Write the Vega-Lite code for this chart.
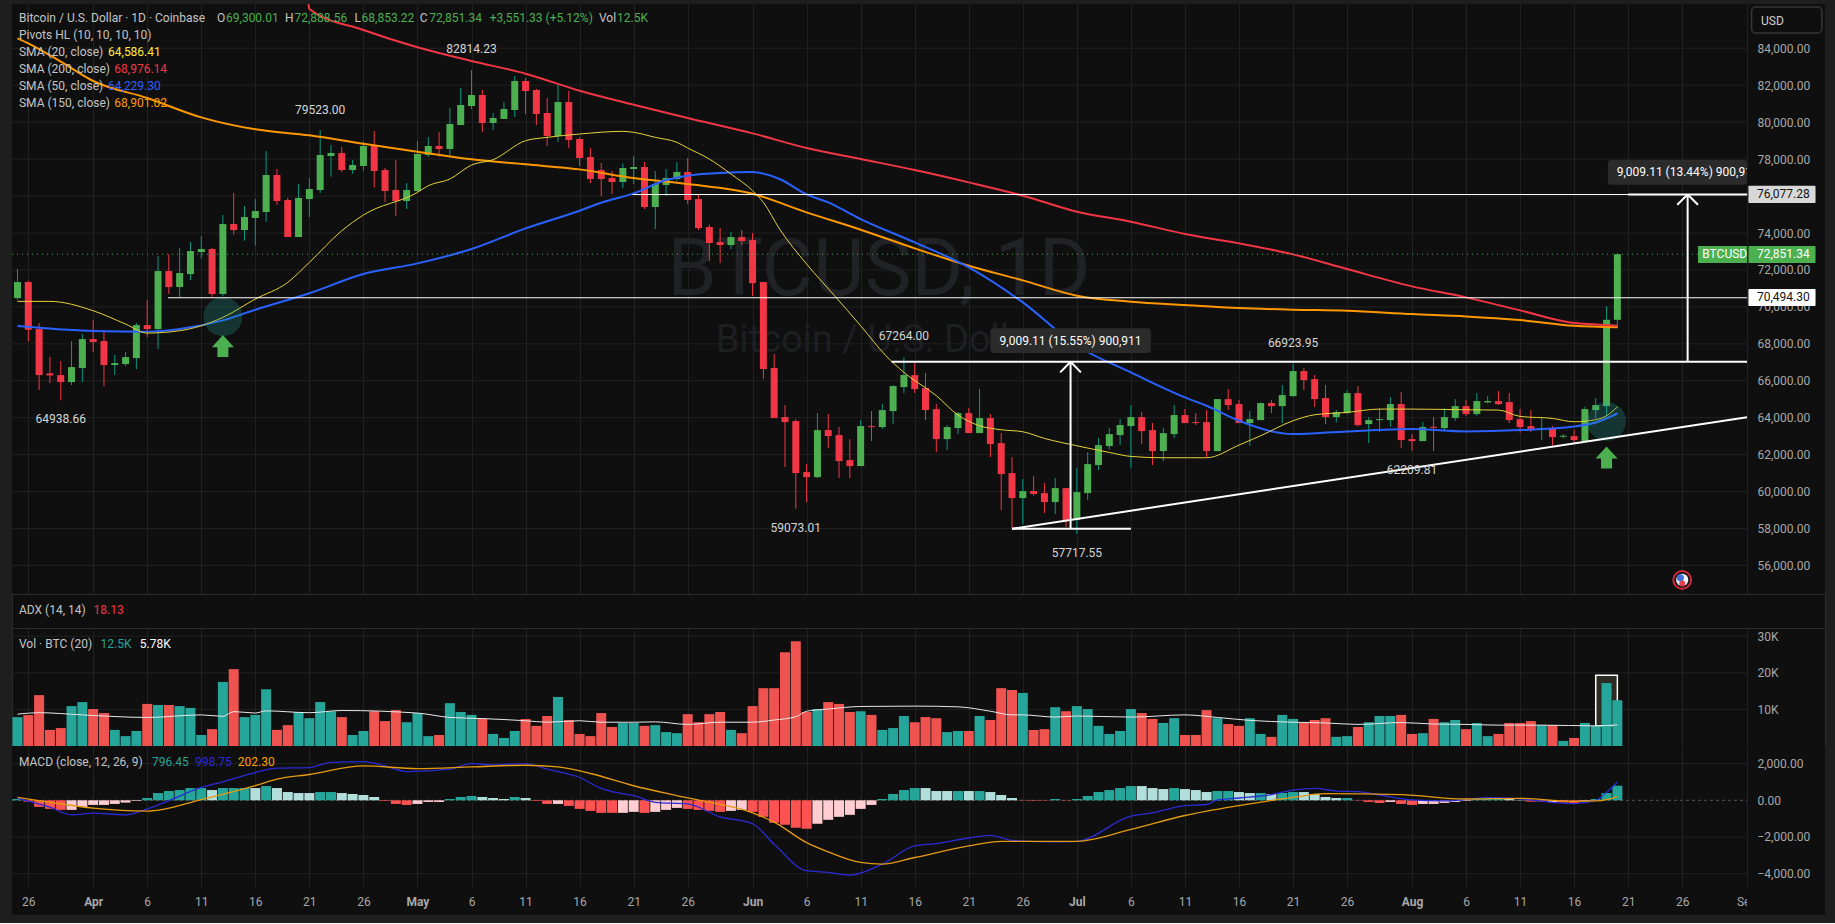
{"$schema":"https://vega.github.io/schema/vega-lite/v6.json","background":"#1e1e1e","padding":{"left":11,"top":0,"right":11,"bottom":8},"bounds":"flush","spacing":0,
"datasets":{
"bars":[
{"d":"2025-03-25","o":70478,"h":72048,"l":70388,"c":71345,"v":7.9,"vd":"u","m":72,"mc":"T"},
{"d":"2025-03-26","o":71345,"h":71417,"l":68114,"c":68763,"v":8.45,"vd":"d","m":-72,"mc":"R"},
{"d":"2025-03-27","o":68800,"h":69124,"l":65496,"c":66309,"v":13.9,"vd":"d","m":-360,"mc":"R"},
{"d":"2025-03-28","o":66400,"h":67283,"l":65875,"c":66290,"v":4.4,"vd":"d","m":-468,"mc":"R"},
{"d":"2025-03-29","o":66309,"h":67067,"l":64938,"c":65930,"v":4.9,"vd":"d","m":-523,"mc":"R"},
{"d":"2025-03-30","o":65930,"h":68150,"l":65767,"c":66742,"v":10.9,"vd":"u","m":-523,"mc":"P"},
{"d":"2025-03-31","o":66688,"h":68529,"l":65930,"c":68258,"v":12.0,"vd":"u","m":-360,"mc":"P"},
{"d":"2025-04-01","o":68258,"h":69287,"l":67554,"c":68095,"v":10.1,"vd":"d","m":-252,"mc":"P"},
{"d":"2025-04-02","o":68150,"h":68691,"l":65713,"c":66850,"v":9.0,"vd":"d","m":-252,"mc":"P"},
{"d":"2025-04-03","o":66850,"h":67392,"l":66309,"c":66958,"v":4.4,"vd":"u","m":-198,"mc":"P"},
{"d":"2025-04-04","o":66904,"h":67554,"l":66796,"c":67283,"v":2.7,"vd":"u","m":-126,"mc":"P"},
{"d":"2025-04-05","o":67229,"h":69124,"l":66634,"c":69016,"v":4.1,"vd":"u","m":-36,"mc":"P"},
{"d":"2025-04-06","o":69016,"h":70370,"l":68366,"c":68800,"v":11.5,"vd":"d","m":126,"mc":"T"},
{"d":"2025-04-07","o":68800,"h":72752,"l":67717,"c":71940,"v":11.2,"vd":"u","m":396,"mc":"T"},
{"d":"2025-04-08","o":71940,"h":72843,"l":70695,"c":71073,"v":11.2,"vd":"d","m":505,"mc":"T"},
{"d":"2025-04-09","o":71073,"h":73186,"l":70514,"c":71832,"v":10.9,"vd":"u","m":559,"mc":"T"},
{"d":"2025-04-10","o":71777,"h":73511,"l":71453,"c":73023,"v":10.4,"vd":"u","m":667,"mc":"T"},
{"d":"2025-04-11","o":72969,"h":73835,"l":72608,"c":73132,"v":3.0,"vd":"u","m":667,"mc":"T"},
{"d":"2025-04-12","o":73132,"h":73180,"l":70550,"c":70695,"v":4.6,"vd":"d","m":559,"mc":"L"},
{"d":"2025-04-13","o":70695,"h":74972,"l":70568,"c":74485,"v":17.5,"vd":"u","m":667,"mc":"T"},
{"d":"2025-04-14","o":74485,"h":76164,"l":73908,"c":74160,"v":21.0,"vd":"d","m":667,"mc":"T"},
{"d":"2025-04-15","o":74160,"h":75460,"l":73583,"c":74864,"v":7.9,"vd":"u","m":667,"mc":"T"},
{"d":"2025-04-16","o":74810,"h":75839,"l":73312,"c":75189,"v":8.5,"vd":"u","m":667,"mc":"L"},
{"d":"2025-04-17","o":75135,"h":78438,"l":74612,"c":77139,"v":15.5,"vd":"u","m":775,"mc":"T"},
{"d":"2025-04-18","o":77139,"h":77463,"l":75514,"c":75731,"v":4.4,"vd":"d","m":667,"mc":"L"},
{"d":"2025-04-19","o":75785,"h":75900,"l":73782,"c":73782,"v":5.7,"vd":"d","m":450,"mc":"L"},
{"d":"2025-04-20","o":73782,"h":76651,"l":73782,"c":75893,"v":9.3,"vd":"u","m":396,"mc":"L"},
{"d":"2025-04-21","o":75839,"h":76976,"l":74864,"c":76381,"v":7.6,"vd":"u","m":396,"mc":"L"},
{"d":"2025-04-22","o":76326,"h":79575,"l":76164,"c":78222,"v":12.0,"vd":"u","m":450,"mc":"T"},
{"d":"2025-04-23","o":78167,"h":78763,"l":77048,"c":78330,"v":9.5,"vd":"u","m":450,"mc":"T"},
{"d":"2025-04-24","o":78330,"h":78655,"l":77301,"c":77409,"v":7.9,"vd":"d","m":396,"mc":"L"},
{"d":"2025-04-25","o":77409,"h":77951,"l":77211,"c":77680,"v":3.0,"vd":"u","m":342,"mc":"L"},
{"d":"2025-04-26","o":77626,"h":78962,"l":77373,"c":78709,"v":4.1,"vd":"u","m":288,"mc":"L"},
{"d":"2025-04-27","o":78709,"h":79521,"l":76471,"c":77355,"v":9.5,"vd":"d","m":180,"mc":"L"},
{"d":"2025-04-28","o":77409,"h":77518,"l":75677,"c":76272,"v":6.8,"vd":"d","m":-36,"mc":"R"},
{"d":"2025-04-29","o":76326,"h":77951,"l":74918,"c":75731,"v":9.8,"vd":"d","m":-198,"mc":"R"},
{"d":"2025-04-30","o":75731,"h":76705,"l":75297,"c":76326,"v":6.5,"vd":"u","m":-252,"mc":"R"},
{"d":"2025-05-01","o":76272,"h":78980,"l":76218,"c":78276,"v":9.0,"vd":"u","m":-198,"mc":"P"},
{"d":"2025-05-02","o":78222,"h":79196,"l":78113,"c":78709,"v":2.7,"vd":"u","m":-90,"mc":"P"},
{"d":"2025-05-03","o":78709,"h":79467,"l":78131,"c":78547,"v":3.0,"vd":"d","m":-90,"mc":"P"},
{"d":"2025-05-04","o":78547,"h":80767,"l":78222,"c":79900,"v":11.7,"vd":"u","m":72,"mc":"T"},
{"d":"2025-05-05","o":79846,"h":81850,"l":79846,"c":80929,"v":9.3,"vd":"u","m":180,"mc":"T"},
{"d":"2025-05-06","o":80875,"h":82814,"l":80712,"c":81471,"v":8.5,"vd":"u","m":234,"mc":"T"},
{"d":"2025-05-07","o":81471,"h":81741,"l":79467,"c":79955,"v":7.4,"vd":"d","m":180,"mc":"L"},
{"d":"2025-05-08","o":79955,"h":80496,"l":79575,"c":80225,"v":3.3,"vd":"u","m":126,"mc":"L"},
{"d":"2025-05-09","o":80171,"h":81091,"l":80171,"c":80712,"v":2.2,"vd":"u","m":72,"mc":"L"},
{"d":"2025-05-10","o":80658,"h":82499,"l":80279,"c":82229,"v":4.1,"vd":"u","m":180,"mc":"T"},
{"d":"2025-05-11","o":82229,"h":82391,"l":80442,"c":81687,"v":7.4,"vd":"d","m":126,"mc":"L"},
{"d":"2025-05-12","o":81741,"h":81796,"l":79846,"c":80442,"v":5.5,"vd":"d","m":-36,"mc":"R"},
{"d":"2025-05-13","o":80496,"h":81308,"l":78709,"c":79250,"v":8.2,"vd":"d","m":-198,"mc":"R"},
{"d":"2025-05-14","o":79250,"h":82120,"l":78926,"c":81091,"v":13.4,"vd":"u","m":-198,"mc":"P"},
{"d":"2025-05-15","o":81091,"h":81687,"l":78601,"c":79034,"v":7.1,"vd":"d","m":-306,"mc":"R"},
{"d":"2025-05-16","o":79088,"h":79196,"l":77626,"c":78059,"v":3.3,"vd":"d","m":-468,"mc":"R"},
{"d":"2025-05-17","o":78113,"h":78601,"l":76705,"c":76922,"v":2.7,"vd":"d","m":-577,"mc":"R"},
{"d":"2025-05-18","o":77409,"h":77788,"l":76001,"c":76922,"v":9.0,"vd":"d","m":-685,"mc":"R"},
{"d":"2025-05-19","o":76976,"h":77355,"l":76110,"c":76760,"v":5.2,"vd":"d","m":-685,"mc":"R"},
{"d":"2025-05-20","o":76760,"h":77770,"l":76435,"c":77518,"v":6.3,"vd":"u","m":-685,"mc":"P"},
{"d":"2025-05-21","o":77464,"h":78167,"l":76651,"c":77572,"v":6.3,"vd":"u","m":-631,"mc":"P"},
{"d":"2025-05-22","o":77572,"h":77842,"l":75297,"c":75406,"v":5.5,"vd":"d","m":-685,"mc":"R"},
{"d":"2025-05-23","o":75406,"h":77355,"l":74215,"c":76651,"v":5.7,"vd":"u","m":-631,"mc":"P"},
{"d":"2025-05-24","o":76597,"h":77463,"l":76001,"c":76976,"v":3.8,"vd":"u","m":-523,"mc":"P"},
{"d":"2025-05-25","o":76922,"h":77842,"l":76814,"c":77301,"v":3.5,"vd":"u","m":-414,"mc":"P"},
{"d":"2025-05-26","o":77301,"h":78059,"l":75568,"c":75785,"v":8.7,"vd":"d","m":-468,"mc":"R"},
{"d":"2025-05-27","o":75839,"h":76056,"l":74160,"c":74269,"v":6.5,"vd":"d","m":-523,"mc":"R"},
{"d":"2025-05-28","o":74323,"h":74467,"l":72482,"c":73456,"v":8.7,"vd":"d","m":-577,"mc":"R"},
{"d":"2025-05-29","o":73510,"h":74269,"l":72373,"c":73348,"v":9.3,"vd":"d","m":-631,"mc":"R"},
{"d":"2025-05-30","o":73348,"h":74052,"l":73131,"c":73781,"v":4.4,"vd":"u","m":-577,"mc":"P"},
{"d":"2025-05-31","o":73781,"h":74160,"l":73348,"c":73565,"v":3.5,"vd":"d","m":-523,"mc":"P"},
{"d":"2025-06-01","o":73619,"h":73998,"l":70587,"c":71290,"v":10.9,"vd":"d","m":-631,"mc":"R"},
{"d":"2025-06-02","o":71345,"h":71345,"l":66092,"c":66634,"v":15.8,"vd":"d","m":-901,"mc":"R"},
{"d":"2025-06-03","o":66688,"h":67446,"l":63980,"c":63980,"v":15.8,"vd":"d","m":-1225,"mc":"R"},
{"d":"2025-06-04","o":64034,"h":64684,"l":61327,"c":63764,"v":25.6,"vd":"d","m":-1333,"mc":"R"},
{"d":"2025-06-05","o":63818,"h":63926,"l":59073,"c":61002,"v":28.6,"vd":"d","m":-1496,"mc":"R"},
{"d":"2025-06-06","o":61056,"h":61489,"l":59431,"c":60785,"v":9.3,"vd":"d","m":-1550,"mc":"R"},
{"d":"2025-06-07","o":60785,"h":64251,"l":60731,"c":63330,"v":10.1,"vd":"u","m":-1279,"mc":"P"},
{"d":"2025-06-08","o":63330,"h":64197,"l":62356,"c":63005,"v":12.0,"vd":"d","m":-1063,"mc":"P"},
{"d":"2025-06-09","o":63060,"h":63493,"l":60731,"c":61652,"v":11.5,"vd":"d","m":-901,"mc":"P"},
{"d":"2025-06-10","o":61706,"h":62843,"l":60731,"c":61381,"v":9.3,"vd":"d","m":-793,"mc":"P"},
{"d":"2025-06-11","o":61381,"h":63872,"l":61381,"c":63547,"v":9.5,"vd":"u","m":-468,"mc":"P"},
{"d":"2025-06-12","o":63547,"h":64359,"l":62735,"c":63493,"v":8.5,"vd":"d","m":-252,"mc":"P"},
{"d":"2025-06-13","o":63493,"h":64738,"l":63385,"c":64413,"v":4.4,"vd":"u","m":72,"mc":"T"},
{"d":"2025-06-14","o":64359,"h":65767,"l":63655,"c":65713,"v":4.9,"vd":"u","m":342,"mc":"T"},
{"d":"2025-06-15","o":65659,"h":67264,"l":65334,"c":66309,"v":8.2,"vd":"u","m":559,"mc":"T"},
{"d":"2025-06-16","o":66309,"h":66958,"l":65334,"c":65550,"v":6.5,"vd":"d","m":667,"mc":"T"},
{"d":"2025-06-17","o":65605,"h":66417,"l":63872,"c":64413,"v":7.9,"vd":"d","m":667,"mc":"L"},
{"d":"2025-06-18","o":64467,"h":64738,"l":62139,"c":62843,"v":7.6,"vd":"d","m":505,"mc":"L"},
{"d":"2025-06-19","o":62843,"h":63601,"l":62247,"c":63493,"v":3.8,"vd":"u","m":505,"mc":"L"},
{"d":"2025-06-20","o":63438,"h":64305,"l":63114,"c":64251,"v":4.1,"vd":"u","m":505,"mc":"T"},
{"d":"2025-06-21","o":64251,"h":64522,"l":63168,"c":63168,"v":4.1,"vd":"d","m":505,"mc":"L"},
{"d":"2025-06-22","o":63168,"h":65550,"l":63168,"c":63980,"v":8.2,"vd":"u","m":505,"mc":"T"},
{"d":"2025-06-23","o":63980,"h":64197,"l":61868,"c":62572,"v":7.1,"vd":"d","m":450,"mc":"L"},
{"d":"2025-06-24","o":62626,"h":63168,"l":58998,"c":60948,"v":15.8,"vd":"d","m":288,"mc":"L"},
{"d":"2025-06-25","o":61002,"h":61868,"l":58024,"c":59648,"v":15.3,"vd":"d","m":126,"mc":"L"},
{"d":"2025-06-26","o":59648,"h":60677,"l":58222,"c":60027,"v":14.5,"vd":"u","m":18,"mc":"R"},
{"d":"2025-06-27","o":60027,"h":60839,"l":59775,"c":59865,"v":4.4,"vd":"d","m":-18,"mc":"R"},
{"d":"2025-06-28","o":59919,"h":60460,"l":58836,"c":59431,"v":4.6,"vd":"d","m":-18,"mc":"R"},
{"d":"2025-06-29","o":59431,"h":60731,"l":58782,"c":60190,"v":10.6,"vd":"u","m":72,"mc":"T"},
{"d":"2025-06-30","o":60190,"h":60190,"l":58078,"c":58457,"v":9.5,"vd":"d","m":-18,"mc":"R"},
{"d":"2025-07-01","o":58457,"h":61272,"l":57717,"c":59973,"v":10.9,"vd":"u","m":72,"mc":"T"},
{"d":"2025-07-02","o":59919,"h":62139,"l":59540,"c":61489,"v":10.1,"vd":"u","m":234,"mc":"T"},
{"d":"2025-07-03","o":61435,"h":62897,"l":61165,"c":62518,"v":5.5,"vd":"u","m":450,"mc":"T"},
{"d":"2025-07-04","o":62464,"h":63439,"l":62265,"c":63114,"v":3.3,"vd":"u","m":559,"mc":"T"},
{"d":"2025-07-05","o":63060,"h":63926,"l":62518,"c":63601,"v":4.1,"vd":"u","m":667,"mc":"T"},
{"d":"2025-07-06","o":63547,"h":64684,"l":61272,"c":64034,"v":10.1,"vd":"u","m":775,"mc":"T"},
{"d":"2025-07-07","o":64034,"h":64305,"l":62572,"c":63276,"v":9.0,"vd":"d","m":775,"mc":"L"},
{"d":"2025-07-08","o":63330,"h":63709,"l":61435,"c":62193,"v":7.4,"vd":"d","m":667,"mc":"L"},
{"d":"2025-07-09","o":62193,"h":63439,"l":61652,"c":63168,"v":6.3,"vd":"u","m":613,"mc":"L"},
{"d":"2025-07-10","o":63114,"h":64684,"l":62897,"c":64143,"v":7.6,"vd":"u","m":667,"mc":"T"},
{"d":"2025-07-11","o":64143,"h":64468,"l":63709,"c":63709,"v":3.0,"vd":"d","m":613,"mc":"L"},
{"d":"2025-07-12","o":63764,"h":64251,"l":63601,"c":63709,"v":3.0,"vd":"d","m":559,"mc":"L"},
{"d":"2025-07-13","o":63764,"h":64413,"l":61850,"c":62193,"v":9.8,"vd":"d","m":450,"mc":"L"},
{"d":"2025-07-14","o":62193,"h":65008,"l":62193,"c":65008,"v":7.6,"vd":"u","m":505,"mc":"T"},
{"d":"2025-07-15","o":65008,"h":65550,"l":64413,"c":64683,"v":6.0,"vd":"d","m":505,"mc":"T"},
{"d":"2025-07-16","o":64738,"h":64954,"l":63709,"c":63709,"v":5.5,"vd":"d","m":450,"mc":"L"},
{"d":"2025-07-17","o":63709,"h":64359,"l":62481,"c":63925,"v":7.6,"vd":"u","m":396,"mc":"L"},
{"d":"2025-07-18","o":63871,"h":64828,"l":63871,"c":64792,"v":3.3,"vd":"u","m":396,"mc":"T"},
{"d":"2025-07-19","o":64792,"h":64954,"l":64250,"c":64629,"v":2.5,"vd":"d","m":342,"mc":"L"},
{"d":"2025-07-20","o":64629,"h":65767,"l":63709,"c":65225,"v":8.5,"vd":"u","m":396,"mc":"T"},
{"d":"2025-07-21","o":65171,"h":66924,"l":65117,"c":66525,"v":7.4,"vd":"u","m":450,"mc":"T"},
{"d":"2025-07-22","o":66525,"h":66687,"l":65496,"c":66037,"v":6.3,"vd":"d","m":450,"mc":"L"},
{"d":"2025-07-23","o":66091,"h":66308,"l":64575,"c":65008,"v":7.1,"vd":"d","m":342,"mc":"L"},
{"d":"2025-07-24","o":65063,"h":65767,"l":63655,"c":64034,"v":7.6,"vd":"d","m":180,"mc":"L"},
{"d":"2025-07-25","o":64034,"h":64413,"l":63745,"c":64305,"v":2.5,"vd":"u","m":126,"mc":"L"},
{"d":"2025-07-26","o":64250,"h":65478,"l":64196,"c":65333,"v":2.7,"vd":"u","m":126,"mc":"T"},
{"d":"2025-07-27","o":65333,"h":65712,"l":63528,"c":63600,"v":5.2,"vd":"d","m":-18,"mc":"R"},
{"d":"2025-07-28","o":63655,"h":64034,"l":62626,"c":63871,"v":6.5,"vd":"u","m":-90,"mc":"R"},
{"d":"2025-07-29","o":63871,"h":64521,"l":63221,"c":63925,"v":8.2,"vd":"u","m":-144,"mc":"R"},
{"d":"2025-07-30","o":63871,"h":65116,"l":63510,"c":64738,"v":8.2,"vd":"u","m":-90,"mc":"P"},
{"d":"2025-07-31","o":64738,"h":65387,"l":62355,"c":62788,"v":8.5,"vd":"d","m":-198,"mc":"R"},
{"d":"2025-08-01","o":62843,"h":63113,"l":62210,"c":62734,"v":3.3,"vd":"d","m":-252,"mc":"R"},
{"d":"2025-08-02","o":62734,"h":63763,"l":62734,"c":63492,"v":3.5,"vd":"u","m":-198,"mc":"P"},
{"d":"2025-08-03","o":63510,"h":64034,"l":62193,"c":63456,"v":7.4,"vd":"d","m":-198,"mc":"P"},
{"d":"2025-08-04","o":63438,"h":64503,"l":63275,"c":64034,"v":6.5,"vd":"u","m":-144,"mc":"P"},
{"d":"2025-08-05","o":63979,"h":65008,"l":63835,"c":64629,"v":7.1,"vd":"u","m":-90,"mc":"P"},
{"d":"2025-08-06","o":64629,"h":64954,"l":64088,"c":64196,"v":4.6,"vd":"d","m":-36,"mc":"P"},
{"d":"2025-08-07","o":64196,"h":65333,"l":64106,"c":64900,"v":6.3,"vd":"u","m":72,"mc":"T"},
{"d":"2025-08-08","o":64828,"h":65171,"l":64775,"c":64900,"v":2.7,"vd":"u","m":108,"mc":"T"},
{"d":"2025-08-09","o":64900,"h":65442,"l":64684,"c":64738,"v":3.3,"vd":"d","m":126,"mc":"T"},
{"d":"2025-08-10","o":64846,"h":65333,"l":63709,"c":63871,"v":6.3,"vd":"d","m":72,"mc":"L"},
{"d":"2025-08-11","o":63925,"h":64467,"l":63185,"c":63492,"v":6.3,"vd":"d","m":18,"mc":"L"},
{"d":"2025-08-12","o":63546,"h":64413,"l":63221,"c":63330,"v":6.8,"vd":"d","m":-72,"mc":"R"},
{"d":"2025-08-13","o":63384,"h":64034,"l":62788,"c":63438,"v":5.7,"vd":"u","m":-72,"mc":"R"},
{"d":"2025-08-14","o":63438,"h":63546,"l":62500,"c":62951,"v":5.7,"vd":"d","m":-108,"mc":"P"},
{"d":"2025-08-15","o":62969,"h":63113,"l":62878,"c":63023,"v":1.4,"vd":"u","m":-126,"mc":"R"},
{"d":"2025-08-16","o":63005,"h":63330,"l":62662,"c":62788,"v":2.2,"vd":"d","m":-144,"mc":"R"},
{"d":"2025-08-17","o":62734,"h":64593,"l":62662,"c":64467,"v":6.3,"vd":"u","m":-36,"mc":"P"},
{"d":"2025-08-18","o":64413,"h":65062,"l":63962,"c":64683,"v":5.5,"vd":"u","m":72,"mc":"T"},
{"d":"2025-08-19","o":64629,"h":70044,"l":64106,"c":69300,"v":17.2,"vd":"u","m":396,"mc":"T"},
{"d":"2025-08-20","o":69300.01,"h":72888.56,"l":68853.22,"c":72851.34,"v":12.5,"vd":"u","m":796.45,"mc":"T"}
],
"ma":[
{"d":"2025-03-25","s":"o","v":84539},{"d":"2025-03-26","s":"o","v":84268},{"d":"2025-03-29","s":"o","v":83276},{"d":"2025-04-01","s":"o","v":82229},{"d":"2025-04-06","s":"o","v":81308},{"d":"2025-04-11","s":"o","v":80261},{"d":"2025-04-16","s":"o","v":79612},{"d":"2025-04-21","s":"o","v":79287},{"d":"2025-04-26","s":"o","v":78835},{"d":"2025-05-01","s":"o","v":78402},{"d":"2025-05-06","s":"o","v":77987},{"d":"2025-05-11","s":"o","v":77716},{"d":"2025-05-16","s":"o","v":77445},{"d":"2025-05-21","s":"o","v":76976},{"d":"2025-05-26","s":"o","v":76651},{"d":"2025-06-01","s":"o","v":76128},{"d":"2025-06-06","s":"o","v":75117},{"d":"2025-06-11","s":"o","v":74178},{"d":"2025-06-16","s":"o","v":73168},{"d":"2025-06-21","s":"o","v":72229},{"d":"2025-06-26","s":"o","v":71435},{"d":"2025-07-01","s":"o","v":70605},{"d":"2025-07-06","s":"o","v":70280},{"d":"2025-07-11","s":"o","v":70099},{"d":"2025-07-16","s":"o","v":69936},{"d":"2025-07-21","s":"o","v":69846},{"d":"2025-07-26","s":"o","v":69792},{"d":"2025-08-01","s":"o","v":69611},{"d":"2025-08-06","s":"o","v":69485},{"d":"2025-08-11","s":"o","v":69287},{"d":"2025-08-16","s":"o","v":68980},{"d":"2025-08-20","s":"o","v":68901},
{"d":"2025-04-20T22:00:00Z","s":"r","v":86390},{"d":"2025-04-21","s":"r","v":86127},{"d":"2025-04-26","s":"r","v":84990},{"d":"2025-05-01","s":"r","v":84052},{"d":"2025-05-06","s":"r","v":83312},{"d":"2025-05-11","s":"r","v":82626},{"d":"2025-05-16","s":"r","v":81705},{"d":"2025-05-21","s":"r","v":80947},{"d":"2025-05-26","s":"r","v":80225},{"d":"2025-06-01","s":"r","v":79395},{"d":"2025-06-06","s":"r","v":78601},{"d":"2025-06-11","s":"r","v":78005},{"d":"2025-06-16","s":"r","v":77409},{"d":"2025-06-21","s":"r","v":76741},{"d":"2025-06-26","s":"r","v":76020},{"d":"2025-07-01","s":"r","v":75153},{"d":"2025-07-06","s":"r","v":74612},{"d":"2025-07-11","s":"r","v":73944},{"d":"2025-07-16","s":"r","v":73438},{"d":"2025-07-21","s":"r","v":72842},{"d":"2025-07-26","s":"r","v":72048},{"d":"2025-08-01","s":"r","v":71110},{"d":"2025-08-06","s":"r","v":70514},{"d":"2025-08-11","s":"r","v":69810},{"d":"2025-08-16","s":"r","v":69124},{"d":"2025-08-18","s":"r","v":69052},{"d":"2025-08-20","s":"r","v":68976},
{"d":"2025-03-25","s":"b","v":68962},{"d":"2025-03-29","s":"b","v":68781},{"d":"2025-04-01","s":"b","v":68691},{"d":"2025-04-06","s":"b","v":68655},{"d":"2025-04-09","s":"b","v":68800},{"d":"2025-04-13","s":"b","v":69269},{"d":"2025-04-16","s":"b","v":69846},{"d":"2025-04-21","s":"b","v":70740},{"d":"2025-04-26","s":"b","v":71778},{"d":"2025-05-01","s":"b","v":72355},{"d":"2025-05-06","s":"b","v":73131},{"d":"2025-05-11","s":"b","v":74250},{"d":"2025-05-16","s":"b","v":75207},{"d":"2025-05-18","s":"b","v":75640},{"d":"2025-05-21","s":"b","v":76146},{"d":"2025-05-24","s":"b","v":76868},{"d":"2025-05-26","s":"b","v":77103},{"d":"2025-05-29","s":"b","v":77247},{"d":"2025-06-01","s":"b","v":77301},{"d":"2025-06-03T12:00:00Z","s":"b","v":76922},{"d":"2025-06-06","s":"b","v":76092},{"d":"2025-06-08","s":"b","v":75658},{"d":"2025-06-11","s":"b","v":74756},{"d":"2025-06-16","s":"b","v":73492},{"d":"2025-06-21","s":"b","v":72139},{"d":"2025-06-26","s":"b","v":70244},{"d":"2025-07-01","s":"b","v":67897},{"d":"2025-07-06","s":"b","v":66453},{"d":"2025-07-11","s":"b","v":65100},{"d":"2025-07-13","s":"b","v":64647},{"d":"2025-07-16","s":"b","v":63835},{"d":"2025-07-21","s":"b","v":63113},{"d":"2025-07-26","s":"b","v":63258},{"d":"2025-08-01","s":"b","v":63384},{"d":"2025-08-06","s":"b","v":63258},{"d":"2025-08-11","s":"b","v":63330},{"d":"2025-08-16","s":"b","v":63528},{"d":"2025-08-18","s":"b","v":63745},{"d":"2025-08-20","s":"b","v":64229},
{"d":"2025-03-25","s":"y","v":70298},{"d":"2025-03-28","s":"y","v":70298},{"d":"2025-04-01","s":"y","v":69792},{"d":"2025-04-04","s":"y","v":69070},{"d":"2025-04-06","s":"y","v":68583},{"d":"2025-04-09","s":"y","v":68709},{"d":"2025-04-13","s":"y","v":69431},{"d":"2025-04-16","s":"y","v":70424},{"d":"2025-04-19","s":"y","v":71326},{"d":"2025-04-21","s":"y","v":72409},{"d":"2025-04-24","s":"y","v":74124},{"d":"2025-04-26","s":"y","v":74973},{"d":"2025-05-01","s":"y","v":76200},{"d":"2025-05-02","s":"y","v":76561},{"d":"2025-05-04","s":"y","v":76922},{"d":"2025-05-06","s":"y","v":77680},{"d":"2025-05-08","s":"y","v":77969},{"d":"2025-05-11","s":"y","v":78998},{"d":"2025-05-13","s":"y","v":79178},{"d":"2025-05-16","s":"y","v":79359},{"d":"2025-05-20","s":"y","v":79503},{"d":"2025-05-21","s":"y","v":79449},{"d":"2025-05-23","s":"y","v":79178},{"d":"2025-05-25","s":"y","v":78907},{"d":"2025-05-26","s":"y","v":78601},{"d":"2025-05-28","s":"y","v":78005},{"d":"2025-05-30","s":"y","v":77193},{"d":"2025-06-01","s":"y","v":76290},{"d":"2025-06-02","s":"y","v":75658},{"d":"2025-06-03T12:00:00Z","s":"y","v":74215},{"d":"2025-06-06","s":"y","v":72319},{"d":"2025-06-08T14:00:00Z","s":"y","v":70605},{"d":"2025-06-11","s":"y","v":68980},{"d":"2025-06-13T08:00:00Z","s":"y","v":67356},{"d":"2025-06-15","s":"y","v":66453},{"d":"2025-06-18","s":"y","v":65190},{"d":"2025-06-20","s":"y","v":64143},{"d":"2025-06-22","s":"y","v":63565},{"d":"2025-06-24","s":"y","v":63348},{"d":"2025-06-26","s":"y","v":63240},{"d":"2025-06-28","s":"y","v":62879},{"d":"2025-07-01","s":"y","v":62482},{"d":"2025-07-04","s":"y","v":62121},{"d":"2025-07-06","s":"y","v":61904},{"d":"2025-07-09","s":"y","v":61832},{"d":"2025-07-13","s":"y","v":61832},{"d":"2025-07-16","s":"y","v":62518},{"d":"2025-07-18","s":"y","v":63023},{"d":"2025-07-21","s":"y","v":63835},{"d":"2025-07-23","s":"y","v":64160},{"d":"2025-07-26","s":"y","v":64287},{"d":"2025-07-29","s":"y","v":64467},{"d":"2025-08-01","s":"y","v":64467},{"d":"2025-08-06","s":"y","v":64431},{"d":"2025-08-09","s":"y","v":64413},{"d":"2025-08-11","s":"y","v":64070},{"d":"2025-08-14","s":"y","v":63962},{"d":"2025-08-16","s":"y","v":63780},{"d":"2025-08-18","s":"y","v":63889},{"d":"2025-08-19","s":"y","v":64106},{"d":"2025-08-20","s":"y","v":64586}
],
"vma":[{"d":"2025-03-25","v":8.7},{"d":"2025-03-27","v":9.1},{"d":"2025-03-31","v":8.5},{"d":"2025-04-06","v":7.8},{"d":"2025-04-11","v":8.5},{"d":"2025-04-13","v":8.1},{"d":"2025-04-14","v":9.4},{"d":"2025-04-16","v":9.0},{"d":"2025-04-17","v":9.6},{"d":"2025-04-21","v":9.1},{"d":"2025-04-24","v":9.7},{"d":"2025-05-01","v":9.0},{"d":"2025-05-04","v":7.8},{"d":"2025-05-07","v":7.5},{"d":"2025-05-11","v":6.9},{"d":"2025-05-13","v":6.5},{"d":"2025-05-16","v":6.9},{"d":"2025-05-18","v":6.5},{"d":"2025-05-21","v":6.5},{"d":"2025-05-23","v":6.6},{"d":"2025-05-26","v":5.9},{"d":"2025-05-29","v":6.5},{"d":"2025-06-01","v":6.5},{"d":"2025-06-03","v":7.1},{"d":"2025-06-05","v":8.0},{"d":"2025-06-06","v":9.5},{"d":"2025-06-08","v":10.1},{"d":"2025-06-11","v":10.8},{"d":"2025-06-16","v":10.9},{"d":"2025-06-20","v":10.7},{"d":"2025-06-23","v":9.5},{"d":"2025-06-25","v":8.5},{"d":"2025-06-26","v":8.5},{"d":"2025-06-29","v":7.9},{"d":"2025-07-01","v":8.2},{"d":"2025-07-06","v":7.9},{"d":"2025-07-11","v":8.5},{"d":"2025-07-14","v":7.8},{"d":"2025-07-17","v":7.0},{"d":"2025-07-21","v":6.5},{"d":"2025-07-24","v":6.3},{"d":"2025-07-27","v":5.9},{"d":"2025-07-31","v":6.4},{"d":"2025-08-03","v":6.0},{"d":"2025-08-06","v":5.9},{"d":"2025-08-09","v":5.7},{"d":"2025-08-13","v":5.7},{"d":"2025-08-18","v":5.5},{"d":"2025-08-20","v":5.78}],
"macdl":[
{"d":"2025-03-25","s":"m","v":108},{"d":"2025-03-28","s":"m","v":-378},{"d":"2025-03-30","s":"m","v":-793},{"d":"2025-04-01","s":"m","v":-703},{"d":"2025-04-04","s":"m","v":-793},{"d":"2025-04-06","s":"m","v":-468},{"d":"2025-04-08","s":"m","v":-18},{"d":"2025-04-11","s":"m","v":703},{"d":"2025-04-13","s":"m","v":1009},{"d":"2025-04-16","s":"m","v":1514},{"d":"2025-04-18","s":"m","v":1748},{"d":"2025-04-21","s":"m","v":1784},{"d":"2025-04-23","s":"m","v":2072},{"d":"2025-04-26","s":"m","v":2108},{"d":"2025-04-28","s":"m","v":1874},{"d":"2025-04-30","s":"m","v":1568},{"d":"2025-05-04","s":"m","v":1694},{"d":"2025-05-06","s":"m","v":2000},{"d":"2025-05-08","s":"m","v":1928},{"d":"2025-05-11","s":"m","v":2000},{"d":"2025-05-13","s":"m","v":1694},{"d":"2025-05-16","s":"m","v":1243},{"d":"2025-05-18","s":"m","v":649},{"d":"2025-05-19","s":"m","v":469},{"d":"2025-05-21","s":"m","v":252},{"d":"2025-05-23","s":"m","v":-108},{"d":"2025-05-26","s":"m","v":-198},{"d":"2025-05-29","s":"m","v":-901},{"d":"2025-06-01","s":"m","v":-1279},{"d":"2025-06-03","s":"m","v":-2397},{"d":"2025-06-06","s":"m","v":-3838},{"d":"2025-06-08","s":"m","v":-3928},{"d":"2025-06-10","s":"m","v":-4073},{"d":"2025-06-13","s":"m","v":-3478},{"d":"2025-06-16","s":"m","v":-2487},{"d":"2025-06-18","s":"m","v":-2361},{"d":"2025-06-21","s":"m","v":-2054},{"d":"2025-06-23","s":"m","v":-1910},{"d":"2025-06-25","s":"m","v":-2180},{"d":"2025-06-29","s":"m","v":-2270},{"d":"2025-07-01","s":"m","v":-2234},{"d":"2025-07-06","s":"m","v":-865},{"d":"2025-07-08","s":"m","v":-685},{"d":"2025-07-11","s":"m","v":-288},{"d":"2025-07-13","s":"m","v":-230},{"d":"2025-07-14","s":"m","v":18},{"d":"2025-07-16","s":"m","v":126},{"d":"2025-07-19","s":"m","v":306},{"d":"2025-07-21","s":"m","v":559},{"d":"2025-07-23","s":"m","v":649},{"d":"2025-07-25","s":"m","v":505},{"d":"2025-07-27","s":"m","v":469},{"d":"2025-07-29","s":"m","v":288},{"d":"2025-08-01","s":"m","v":18},{"d":"2025-08-04","s":"m","v":-36},{"d":"2025-08-08","s":"m","v":144},{"d":"2025-08-11","s":"m","v":72},{"d":"2025-08-14","s":"m","v":-108},{"d":"2025-08-16","s":"m","v":-180},{"d":"2025-08-18","s":"m","v":0},{"d":"2025-08-19","s":"m","v":432},{"d":"2025-08-20","s":"m","v":998.75},
{"d":"2025-03-25","s":"s","v":162},{"d":"2025-03-28","s":"s","v":-108},{"d":"2025-04-01","s":"s","v":-432},{"d":"2025-04-06","s":"s","v":-595},{"d":"2025-04-11","s":"s","v":36},{"d":"2025-04-16","s":"s","v":793},{"d":"2025-04-18","s":"s","v":1153},{"d":"2025-04-21","s":"s","v":1406},{"d":"2025-04-26","s":"s","v":1874},{"d":"2025-05-01","s":"s","v":1730},{"d":"2025-05-06","s":"s","v":1820},{"d":"2025-05-11","s":"s","v":1910},{"d":"2025-05-14","s":"s","v":1820},{"d":"2025-05-17","s":"s","v":1460},{"d":"2025-05-21","s":"s","v":793},{"d":"2025-05-26","s":"s","v":126},{"d":"2025-06-01","s":"s","v":-685},{"d":"2025-06-03","s":"s","v":-1189},{"d":"2025-06-06","s":"s","v":-2307},{"d":"2025-06-08","s":"s","v":-2811},{"d":"2025-06-11","s":"s","v":-3388},{"d":"2025-06-13","s":"s","v":-3478},{"d":"2025-06-16","s":"s","v":-3117},{"d":"2025-06-21","s":"s","v":-2487},{"d":"2025-06-24","s":"s","v":-2234},{"d":"2025-07-01","s":"s","v":-2234},{"d":"2025-07-06","s":"s","v":-1586},{"d":"2025-07-11","s":"s","v":-829},{"d":"2025-07-16","s":"s","v":-288},{"d":"2025-07-21","s":"s","v":162},{"d":"2025-07-24","s":"s","v":360},{"d":"2025-07-31","s":"s","v":306},{"d":"2025-08-06","s":"s","v":72},{"d":"2025-08-11","s":"s","v":108},{"d":"2025-08-16","s":"s","v":-54},{"d":"2025-08-18","s":"s","v":-36},{"d":"2025-08-19","s":"s","v":36},{"d":"2025-08-20","s":"s","v":202.3}
],
"lines":[
{"a":"2025-05-20T21:30:00Z","b":"2025-09-01","p":76085,"q":76085,"w":"thin"},
{"a":"2025-04-07T22:00:00Z","b":"2025-09-01","p":70494.3,"q":70494.3,"w":"thin"},
{"a":"2025-08-21","b":"2025-09-01","p":76085,"q":76085,"w":"thick"},
{"a":"2025-06-13T20:30:00Z","b":"2025-09-01","p":67030,"q":67030,"w":"thick"},
{"a":"2025-06-25","b":"2025-07-06","p":57988,"q":57988,"w":"thick"},
{"a":"2025-06-25","b":"2025-09-01","p":57988,"q":64030,"w":"thick"},
{"a":"2025-06-30T10:00:00Z","b":"2025-06-30T10:00:00Z","p":57988,"q":67030,"w":"thick"},
{"a":"2025-06-29T11:00:00Z","b":"2025-06-30T10:00:00Z","p":66454,"q":67030,"w":"thick"},
{"a":"2025-07-01T09:00:00Z","b":"2025-06-30T10:00:00Z","p":66454,"q":67030,"w":"thick"},
{"a":"2025-08-26T12:00:00Z","b":"2025-08-26T12:00:00Z","p":67030,"q":76085,"w":"thick"},
{"a":"2025-08-25T13:00:00Z","b":"2025-08-26T12:00:00Z","p":75533,"q":76085,"w":"thick"},
{"a":"2025-08-27T11:00:00Z","b":"2025-08-26T12:00:00Z","p":75533,"q":76085,"w":"thick"}
],
"legend":[
{"d":"2025-03-25T03:20:00Z","p":85640,"t":"Bitcoin / U.S. Dollar · 1D · Coinbase","k":"w"},
{"d":"2025-04-12T11:00:00Z","p":85640,"t":"O","k":"w"},{"d":"2025-04-13T07:00:00Z","p":85640,"t":"69,300.01","k":"g"},
{"d":"2025-04-18T18:00:00Z","p":85640,"t":"H","k":"w"},{"d":"2025-04-19T15:00:00Z","p":85640,"t":"72,888.56","k":"g"},
{"d":"2025-04-25T04:00:00Z","p":85640,"t":"L","k":"w"},{"d":"2025-04-25T20:00:00Z","p":85640,"t":"68,853.22","k":"g"},
{"d":"2025-05-01T05:00:00Z","p":85640,"t":"C","k":"w"},{"d":"2025-05-02T02:00:00Z","p":85640,"t":"72,851.34","k":"g"},
{"d":"2025-05-07T16:30:00Z","p":85640,"t":"+3,551.33 (+5.12%)","k":"g"},
{"d":"2025-05-17T19:00:00Z","p":85640,"t":"Vol","k":"w"},{"d":"2025-05-19T11:00:00Z","p":85640,"t":"12.5K","k":"g"},
{"d":"2025-03-25T03:20:00Z","p":84720,"t":"Pivots HL (10, 10, 10, 10)","k":"w"},
{"d":"2025-03-25T03:20:00Z","p":83816,"t":"SMA (20, close)","k":"w"},{"d":"2025-04-02T09:00:00Z","p":83816,"t":"64,586.41","k":"y"},
{"d":"2025-03-25T03:20:00Z","p":82895,"t":"SMA (200, close)","k":"w"},{"d":"2025-04-02T23:00:00Z","p":82895,"t":"68,976.14","k":"r"},
{"d":"2025-03-25T03:20:00Z","p":81975,"t":"SMA (50, close)","k":"w"},{"d":"2025-04-02T09:00:00Z","p":81975,"t":"64,229.30","k":"b"},
{"d":"2025-03-25T03:20:00Z","p":81055,"t":"SMA (150, close)","k":"w"},{"d":"2025-04-02T23:00:00Z","p":81055,"t":"68,901.02","k":"o"}
],
"grid1":[{"y":56000,"a":"2025-03-24T11:48:00Z","b":"2025-09-01"},{"y":58000,"a":"2025-03-24T11:48:00Z","b":"2025-09-01"},{"y":60000,"a":"2025-03-24T11:48:00Z","b":"2025-09-01"},{"y":62000,"a":"2025-03-24T11:48:00Z","b":"2025-09-01"},{"y":64000,"a":"2025-03-24T11:48:00Z","b":"2025-09-01"},{"y":66000,"a":"2025-03-24T11:48:00Z","b":"2025-09-01"},{"y":68000,"a":"2025-03-24T11:48:00Z","b":"2025-09-01"},{"y":70000,"a":"2025-03-24T11:48:00Z","b":"2025-09-01"},{"y":72000,"a":"2025-03-24T11:48:00Z","b":"2025-09-01"},{"y":74000,"a":"2025-03-24T11:48:00Z","b":"2025-09-01"},{"y":76000,"a":"2025-03-24T11:48:00Z","b":"2025-09-01"},{"y":78000,"a":"2025-03-24T11:48:00Z","b":"2025-09-01"},{"y":80000,"a":"2025-03-24T11:48:00Z","b":"2025-09-01"},{"y":82000,"a":"2025-03-24T11:48:00Z","b":"2025-09-01"},{"y":84000,"a":"2025-03-24T11:48:00Z","b":"2025-09-01"}]
},
"vconcat":[
{"width":1813,"height":590,"view":{"fill":"#0f0f0f","stroke":null},"resolve":{"scale":{"color":"independent","strokeWidth":"independent"}},
"layer":[
{"data":{"name":"grid1"},"mark":{"type":"rule","color":"#212121","strokeWidth":1},
"encoding":{"x":{"field":"a","type":"temporal","scale":{"type":"utc","padding":0,"domain":["2025-03-24T11:48:00Z","2025-09-08T05:00:00Z"],"nice":false},
"axis":{"values":["2025-03-26","2025-04-01","2025-04-06","2025-04-11","2025-04-16","2025-04-21","2025-04-26","2025-05-01","2025-05-06","2025-05-11","2025-05-16","2025-05-21","2025-05-26","2025-06-01","2025-06-06","2025-06-11","2025-06-16","2025-06-21","2025-06-26","2025-07-01","2025-07-06","2025-07-11","2025-07-16","2025-07-21","2025-07-26","2025-08-01","2025-08-06","2025-08-11","2025-08-16","2025-08-21","2025-08-26","2025-09-01"],"grid":true,"gridColor":"#212121","labels":false,"title":null}},
"x2":{"field":"b"},
"y":{"field":"y","type":"quantitative","scale":{"domain":[54456,86398],"nice":false,"zero":false},
"axis":{"orient":"right","offset":-77,"labelPadding":9,"values":[56000,58000,60000,62000,64000,66000,68000,70000,72000,74000,76000,78000,80000,82000,84000],"format":",.2f","title":null}}}},
{"data":{"values":[{"d":"2025-06-12T17:00:00Z","p":71916,"t":"BTCUSD, 1D"}]},"mark":{"type":"text","fontSize":79,"color":"#202226"},"encoding":{"x":{"field":"d","type":"temporal","title":null},"y":{"field":"p","type":"quantitative","title":null},"text":{"field":"t"}}},
{"data":{"values":[{"d":"2025-06-12T17:00:00Z","p":68180,"t":"Bitcoin / U.S. Dollar"}]},"mark":{"type":"text","fontSize":38,"color":"#1d1f22"},"encoding":{"x":{"field":"d","type":"temporal","title":null},"y":{"field":"p","type":"quantitative","title":null},"text":{"field":"t"}}},
{"data":{"name":"bars"},"mark":{"type":"rule","strokeWidth":1},"encoding":{"x":{"field":"d","type":"temporal","title":null},"y":{"field":"l","type":"quantitative","title":null},"y2":{"field":"h"},"color":{"condition":{"test":"datum.c>=datum.o","value":"#089981"},"value":"#f23645"}}},
{"data":{"name":"bars"},"mark":{"type":"bar","size":7,"orient":"vertical"},"encoding":{"x":{"field":"d","type":"temporal","title":null},"y":{"field":"o","type":"quantitative","title":null},"y2":{"field":"c"},"color":{"condition":{"test":"datum.c>=datum.o","value":"#4caf50"},"value":"#f23645"}}},
{"data":{"name":"ma"},"transform":[{"filter":"datum.s!='y'"}],"mark":{"type":"line","interpolate":"monotone","strokeWidth":2},"encoding":{"x":{"field":"d","type":"temporal","title":null},"y":{"field":"v","type":"quantitative","title":null},"color":{"field":"s","type":"nominal","legend":null,"scale":{"domain":["o","r","b"],"range":["#ff9800","#f23645","#2962ff"]}}}},
{"data":{"name":"ma"},"transform":[{"filter":"datum.s=='y'"}],"mark":{"type":"line","interpolate":"monotone","strokeWidth":1,"color":"#e6d33a"},"encoding":{"x":{"field":"d","type":"temporal","title":null},"y":{"field":"v","type":"quantitative","title":null}}},
{"data":{"values":[{"d":"2025-04-13","p":69467},{"d":"2025-08-19","p":63800}]},"mark":{"type":"point","shape":"circle","filled":true,"size":1520,"color":"#26a69a","opacity":0.25,"strokeWidth":0},"encoding":{"x":{"field":"d","type":"temporal","title":null},"y":{"field":"p","type":"quantitative","title":null}}},
{"data":{"values":[{"d":"2025-04-13","p":67879},{"d":"2025-08-19","p":61850}]},"mark":{"type":"point","shape":"M0,-1 L1,0.1 L0.5,0.1 L0.5,1 L-0.5,1 L-0.5,0.1 L-1,0.1 Z","filled":true,"size":484,"color":"#4caf50","opacity":1,"strokeWidth":0},"encoding":{"x":{"field":"d","type":"temporal","title":null},"y":{"field":"p","type":"quantitative","title":null}}},
{"data":{"values":[{"a":"2025-03-24T12:00:00Z","b":"2025-08-27T11:00:00Z","p":72851.34}]},"mark":{"type":"rule","color":"#4caf50","strokeWidth":1,"strokeDash":[1,4]},"encoding":{"x":{"field":"a","type":"temporal","title":null},"x2":{"field":"b"},"y":{"field":"p","type":"quantitative","title":null}}},
{"data":{"name":"lines"},"mark":{"type":"rule","color":"#ffffff"},"encoding":{"x":{"field":"a","type":"temporal","title":null},"x2":{"field":"b"},"y":{"field":"p","type":"quantitative","title":null},"y2":{"field":"q"},"strokeWidth":{"field":"w","type":"nominal","legend":null,"scale":{"domain":["thin","thick"],"range":[1,2]}}}},
{"data":{"values":[{"d":"2025-05-06","p":82814.23},{"d":"2025-04-22","p":79523.00},{"d":"2025-06-15","p":67264.00},{"d":"2025-07-21","p":66923.95}]},"mark":{"type":"text","dy":-21,"color":"#d6d6d6","fontSize":12},"encoding":{"x":{"field":"d","type":"temporal","title":null},"y":{"field":"p","type":"quantitative","title":null},"text":{"field":"p","format":".2f"}}},
{"data":{"values":[{"d":"2025-03-29","p":64938.66},{"d":"2025-06-05","p":59073.01},{"d":"2025-08-01","p":62209.81},{"d":"2025-07-01","p":57717.55}]},"mark":{"type":"text","dy":19,"color":"#d6d6d6","fontSize":12},"encoding":{"x":{"field":"d","type":"temporal","title":null},"y":{"field":"p","type":"quantitative","title":null},"text":{"field":"p","format":".2f"}}},
{"data":{"values":[{"a":"2025-06-23","b":"2025-07-07T20:00:00Z","p":68841,"q":67504},{"a":"2025-08-19T03:00:00Z","b":"2025-09-01","p":77953,"q":76615}]},"mark":{"type":"rect","color":"#2b2b2b","cornerRadius":3},"encoding":{"x":{"field":"a","type":"temporal","title":null},"x2":{"field":"b"},"y":{"field":"p","type":"quantitative","title":null},"y2":{"field":"q"}}},
{"data":{"values":[{"d":"2025-06-30T10:00:00Z","p":68180,"t":"9,009.11 (15.55%) 900,911"},{"d":"2025-08-26T12:00:00Z","p":77290,"t":"9,009.11 (13.44%) 900,911"}]},"mark":{"type":"text","color":"#ffffff","fontSize":12},"encoding":{"x":{"field":"d","type":"temporal","title":null},"y":{"field":"p","type":"quantitative","title":null},"text":{"field":"t"}}},
{"data":{"values":[{"a":"2025-09-01","b":"2025-09-08T05:00:00Z","p":77628,"q":76600,"k":"bg"},{"a":"2025-09-01T03:00:00Z","b":"2025-09-07T08:00:00Z","p":76561,"q":75625,"k":"gray"},{"a":"2025-09-01T03:00:00Z","b":"2025-09-07T08:00:00Z","p":70969,"q":70048,"k":"white"},{"a":"2025-09-01T03:00:00Z","b":"2025-09-07T08:00:00Z","p":73297,"q":72380,"k":"green"},{"a":"2025-08-27T11:00:00Z","b":"2025-09-01","p":73297,"q":72380,"k":"green"}]},"mark":{"type":"rect","cornerRadius":1},"encoding":{"x":{"field":"a","type":"temporal","title":null},"x2":{"field":"b"},"y":{"field":"p","type":"quantitative","title":null},"y2":{"field":"q"},"color":{"field":"k","type":"nominal","legend":null,"scale":{"domain":["bg","gray","white","green"],"range":["#0f0f0f","#d8d8d8","#ffffff","#4caf50"]}}}},
{"data":{"values":[{"d":"2025-09-01T22:00:00Z","p":76093,"t":"76,077.28","k":"dark"},{"d":"2025-09-01T22:00:00Z","p":70510,"t":"70,494.30","k":"dark"},{"d":"2025-09-01T22:00:00Z","p":72851,"t":"72,851.34","k":"light"},{"d":"2025-08-27T20:30:00Z","p":72851,"t":"BTCUSD","k":"light"}]},"mark":{"type":"text","align":"left","fontSize":12},"encoding":{"x":{"field":"d","type":"temporal","title":null},"y":{"field":"p","type":"quantitative","title":null},"text":{"field":"t"},"color":{"field":"k","type":"nominal","legend":null,"scale":{"domain":["dark","light"],"range":["#131313","#ffffff"]}}}},
{"data":{"values":[{"a":"2025-09-01T10:00:00Z","b":"2025-09-07T22:00:00Z","p":86236,"q":84828}]},"mark":{"type":"rect","fillOpacity":0,"stroke":"#363636","strokeWidth":1.5,"cornerRadius":4},"encoding":{"x":{"field":"a","type":"temporal","title":null},"x2":{"field":"b"},"y":{"field":"p","type":"quantitative","title":null},"y2":{"field":"q"}}},
{"data":{"name":"legend"},"mark":{"type":"text","align":"left","fontSize":12},"encoding":{"x":{"field":"d","type":"temporal","title":null},"y":{"field":"p","type":"quantitative","title":null},"text":{"field":"t"},"color":{"field":"k","type":"nominal","legend":null,"scale":{"domain":["w","g","y","r","b","o"],"range":["#c4c4c4","#4caf50","#ffeb3b","#f23645","#2962ff","#ff9800"]}}}},
{"data":{"values":[{"d":"2025-09-02T07:00:00Z","p":85494,"t":"USD"}]},"mark":{"type":"text","align":"left","color":"#d0d0d0","fontSize":12},"encoding":{"x":{"field":"d","type":"temporal","title":null},"y":{"field":"p","type":"quantitative","title":null},"text":{"field":"t"}}},
{"data":{"values":[{"d":"2025-08-26","p":55220}]},"mark":{"type":"point","shape":"circle","filled":true,"fill":"#151515","size":314,"stroke":"#d4283c","strokeWidth":2,"opacity":1},"encoding":{"x":{"field":"d","type":"temporal","title":null},"y":{"field":"p","type":"quantitative","title":null}}},
{"data":{"values":[{"d":"2025-08-26","p":55220}]},"mark":{"type":"point","shape":"circle","filled":true,"color":"#f4f4f4","size":150,"strokeWidth":0,"opacity":1},"encoding":{"x":{"field":"d","type":"temporal","title":null},"y":{"field":"p","type":"quantitative","title":null}}},
{"data":{"values":[{"d":"2025-08-25T20:00:00Z","p":55330}]},"mark":{"type":"point","shape":"circle","filled":true,"color":"#3f6fd8","size":50,"strokeWidth":0,"opacity":1},"encoding":{"x":{"field":"d","type":"temporal","title":null},"y":{"field":"p","type":"quantitative","title":null}}},
{"data":{"values":[{"d":"2025-08-26","p":55020}]},"mark":{"type":"point","shape":"circle","filled":true,"color":"#e0404f","size":36,"strokeWidth":0,"opacity":1},"encoding":{"x":{"field":"d","type":"temporal","title":null},"y":{"field":"p","type":"quantitative","title":null}}}
]},
{"width":1813,"height":34,"view":{"fill":"#0f0f0f","stroke":"#2c2c2c"},
"data":{"values":[{"d":"2025-03-25T03:20:00Z","t":"ADX (14, 14)","k":"w"},{"d":"2025-04-01T01:00:00Z","t":"18.13","k":"r"}]},
"mark":{"type":"text","align":"left","fontSize":12,"dy":-1},
"encoding":{"x":{"field":"d","type":"temporal","scale":{"type":"utc","domain":["2025-03-24T11:48:00Z","2025-09-08T05:00:00Z"],"nice":false},"axis":null},"text":{"field":"t"},"color":{"field":"k","type":"nominal","legend":null,"scale":{"domain":["w","r"],"range":["#c4c4c4","#f23645"]}}}},
{"width":1813,"height":118,"view":{"fill":"#0f0f0f","stroke":"#2c2c2c"},"resolve":{"scale":{"color":"independent"}},
"layer":[
{"data":{"values":[{"y":10,"a":"2025-03-24T11:48:00Z","b":"2025-09-01"},{"y":20,"a":"2025-03-24T11:48:00Z","b":"2025-09-01"},{"y":30,"a":"2025-03-24T11:48:00Z","b":"2025-09-01"}]},"mark":{"type":"rule","color":"#212121","strokeWidth":1},
"encoding":{"x":{"field":"a","type":"temporal","scale":{"type":"utc","padding":0,"domain":["2025-03-24T11:48:00Z","2025-09-08T05:00:00Z"],"nice":false},
"axis":{"values":["2025-03-26","2025-04-01","2025-04-06","2025-04-11","2025-04-16","2025-04-21","2025-04-26","2025-05-01","2025-05-06","2025-05-11","2025-05-16","2025-05-21","2025-05-26","2025-06-01","2025-06-06","2025-06-11","2025-06-16","2025-06-21","2025-06-26","2025-07-01","2025-07-06","2025-07-11","2025-07-16","2025-07-21","2025-07-26","2025-08-01","2025-08-06","2025-08-11","2025-08-16","2025-08-21","2025-08-26","2025-09-01"],"grid":true,"gridColor":"#212121","labels":false,"title":null}},
"x2":{"field":"b"},
"y":{"field":"y","type":"quantitative","scale":{"domain":[0,32.24],"nice":false},
"axis":{"orient":"right","offset":-77,"labelPadding":9,"values":[10,20,30],"labelExpr":"datum.value+'K'","title":null}}}},
{"data":{"values":[{"a":"2025-08-18","b":"2025-08-20","p":5.5,"q":19.3}]},"mark":{"type":"rect","fill":"#2e2c22","stroke":"#ffffff","strokeWidth":1.5},"encoding":{"x":{"field":"a","type":"temporal","title":null},"x2":{"field":"b"},"y":{"field":"p","type":"quantitative","title":null},"y2":{"field":"q"}}},
{"data":{"name":"bars"},"mark":{"type":"bar","size":10,"orient":"vertical"},"encoding":{"x":{"field":"d","type":"temporal","title":null},"y":{"field":"v","type":"quantitative","title":null,"stack":null},"color":{"field":"vd","type":"nominal","legend":null,"scale":{"domain":["u","d"],"range":["#26a69a","#ef5350"]}}}},
{"data":{"name":"vma"},"mark":{"type":"line","color":"#e8e8e8","strokeWidth":1,"interpolate":"monotone"},"encoding":{"x":{"field":"d","type":"temporal","title":null},"y":{"field":"v","type":"quantitative","title":null}}},
{"data":{"values":[{"d":"2025-03-25T03:20:00Z","p":27.95,"t":"Vol · BTC (20)","k":"w"},{"d":"2025-04-01T16:30:00Z","p":27.95,"t":"12.5K","k":"t"},{"d":"2025-04-05T07:30:00Z","p":27.95,"t":"5.78K","k":"x"}]},"mark":{"type":"text","align":"left","fontSize":12},"encoding":{"x":{"field":"d","type":"temporal","title":null},"y":{"field":"p","type":"quantitative","title":null},"text":{"field":"t"},"color":{"field":"k","type":"nominal","legend":null,"scale":{"domain":["w","t","x"],"range":["#c4c4c4","#26a69a","#ffffff"]}}}}
]},
{"width":1813,"height":141,"view":{"fill":"#0f0f0f","stroke":null},"resolve":{"scale":{"color":"independent"}},
"layer":[
{"data":{"values":[{"y":-4000,"a":"2025-03-24T11:48:00Z","b":"2025-09-01"},{"y":-2000,"a":"2025-03-24T11:48:00Z","b":"2025-09-01"},{"y":2000,"a":"2025-03-24T11:48:00Z","b":"2025-09-01"}]},"mark":{"type":"rule","color":"#212121","strokeWidth":1},
"encoding":{"x":{"field":"a","type":"temporal","scale":{"type":"utc","padding":0,"domain":["2025-03-24T11:48:00Z","2025-09-08T05:00:00Z"],"nice":false},
"axis":{"values":["2025-03-26","2025-04-01","2025-04-06","2025-04-11","2025-04-16","2025-04-21","2025-04-26","2025-05-01","2025-05-06","2025-05-11","2025-05-16","2025-05-21","2025-05-26","2025-06-01","2025-06-06","2025-06-11","2025-06-16","2025-06-21","2025-06-26","2025-07-01","2025-07-06","2025-07-11","2025-07-16","2025-07-21","2025-07-26","2025-08-01","2025-08-06","2025-08-11","2025-08-16","2025-08-21","2025-08-26","2025-09-01"],"grid":true,"gridColor":"#212121","labels":false,"title":null}},
"x2":{"field":"b"},
"y":{"field":"y","type":"quantitative","scale":{"domain":[-4725,2959],"nice":false,"zero":false},
"axis":{"orient":"right","offset":-77,"labelPadding":9,"values":[-4000,-2000,0,2000],"format":",.2f","title":null}}}},
{"data":{"values":[{"a":"2025-03-24T11:48:00Z","b":"2025-09-01","y":0}]},"mark":{"type":"rule","color":"#555555","strokeWidth":1,"strokeDash":[3,3]},"encoding":{"x":{"field":"a","type":"temporal","title":null},"x2":{"field":"b"},"y":{"field":"y","type":"quantitative","title":null}}},
{"data":{"name":"bars"},"mark":{"type":"bar","size":10,"orient":"vertical"},"encoding":{"x":{"field":"d","type":"temporal","title":null},"y":{"field":"m","type":"quantitative","title":null,"stack":null},"color":{"field":"mc","type":"nominal","legend":null,"scale":{"domain":["T","L","P","R"],"range":["#26a69a","#b2dfdb","#ffcdd2","#ff5252"]}}}},
{"data":{"name":"macdl"},"mark":{"type":"line","strokeWidth":1.3,"interpolate":"monotone"},"encoding":{"x":{"field":"d","type":"temporal","title":null},"y":{"field":"v","type":"quantitative","title":null},"color":{"field":"s","type":"nominal","legend":null,"scale":{"domain":["m","s"],"range":["#2b2bd6","#e69a10"]}}}},
{"data":{"values":[{"d":"2025-03-25T03:20:00Z","p":2104,"t":"MACD (close, 12, 26, 9)","k":"w"},{"d":"2025-04-06T10:30:00Z","p":2104,"t":"796.45","k":"t"},{"d":"2025-04-10T10:00:00Z","p":2104,"t":"998.75","k":"m"},{"d":"2025-04-14T09:00:00Z","p":2104,"t":"202.30","k":"s"}]},"mark":{"type":"text","align":"left","fontSize":12},"encoding":{"x":{"field":"d","type":"temporal","title":null},"y":{"field":"p","type":"quantitative","title":null},"text":{"field":"t"},"color":{"field":"k","type":"nominal","legend":null,"scale":{"domain":["w","t","m","s"],"range":["#c4c4c4","#26a69a","#2b2bd6","#ffa000"]}}}}
]},
{"width":1813,"height":28,"view":{"fill":"#0f0f0f","stroke":null},
"layer":[
{"data":{"values":[{"d":"2025-09-01","t":"Sep"}]},"mark":{"type":"text","fontSize":12,"color":"#a8a8a8","dy":1},
"encoding":{"x":{"field":"d","type":"temporal","scale":{"type":"utc","padding":0,"domain":["2025-03-24T11:48:00Z","2025-09-08T05:00:00Z"],"nice":false},
"axis":{"orient":"bottom","offset":-28,"labelPadding":9,"labelOverlap":false,"values":["2025-03-26","2025-04-01","2025-04-06","2025-04-11","2025-04-16","2025-04-21","2025-04-26","2025-05-01","2025-05-06","2025-05-11","2025-05-16","2025-05-21","2025-05-26","2025-06-01","2025-06-06","2025-06-11","2025-06-16","2025-06-21","2025-06-26","2025-07-01","2025-07-06","2025-07-11","2025-07-16","2025-07-21","2025-07-26","2025-08-01","2025-08-06","2025-08-11","2025-08-16","2025-08-21","2025-08-26"],"labelExpr":"utcdate(datum.value)==1?utcFormat(datum.value,'%b'):utcFormat(datum.value,'%-d')","labelFontWeight":{"condition":{"test":"utcdate(datum.value)==1","value":"bold"},"value":"normal"},"title":null}},"text":{"field":"t"}}},
{"data":{"values":[{"a":"2025-09-01","b":"2025-09-08T05:00:00Z"}]},"mark":{"type":"rect","color":"#0f0f0f"},"encoding":{"x":{"field":"a","type":"temporal","title":null},"x2":{"field":"b"}}}
]}
],
"config":{"axis":{"labelFont":"Roboto","labelFontSize":12,"labelColor":"#a8a8a8","ticks":false,"domain":false,"grid":false},"text":{"font":"Roboto","fontSize":12}}}
